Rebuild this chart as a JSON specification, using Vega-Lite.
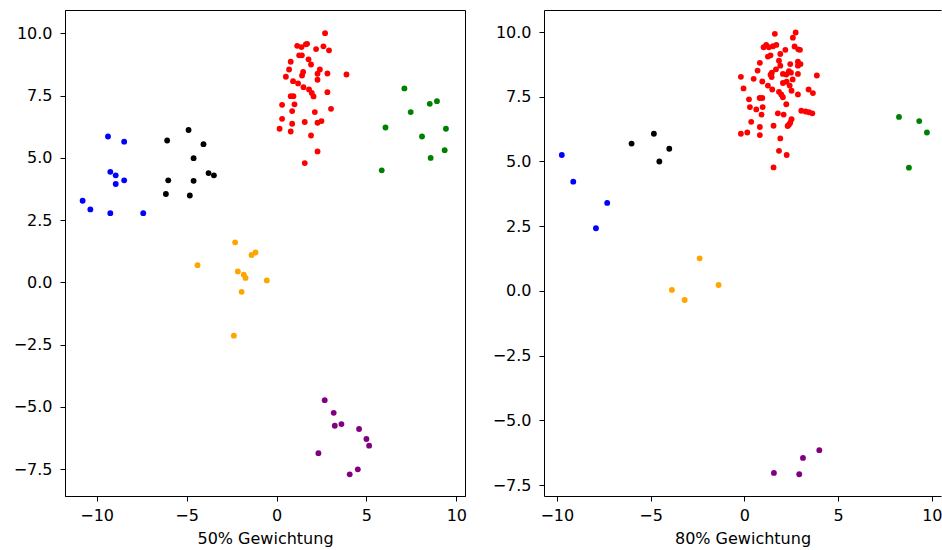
{
  "$schema": "https://vega.github.io/schema/vega-lite/v6.json",
  "padding": {"left": 11, "top": 9, "right": 0, "bottom": 0},
  "background": "white",
  "spacing": 23,
  "config": {
    "view": {"stroke": "#000000", "strokeWidth": 1},
    "axis": {
      "grid": false,
      "domainColor": "#000000",
      "domainWidth": 1,
      "tickColor": "#000000",
      "tickSize": 5,
      "tickWidth": 1,
      "labelFont": "DejaVu Sans",
      "labelFontSize": 16,
      "labelColor": "#000000",
      "labelFlush": false,
      "labelOverlap": false,
      "titleFont": "DejaVu Sans",
      "titleFontSize": 16,
      "titleFontWeight": "normal",
      "titleColor": "#000000"
    },
    "axisX": {"labelPadding": 6, "titlePadding": 7},
    "axisY": {"labelPadding": 8, "minExtent": 53, "maxExtent": 53}
  },
  "datasets": {
    "g50": [
      {"x": 2.70, "y": 10.01, "c": "red"}, {"x": 1.15, "y": 9.50, "c": "red"}, {"x": 1.39, "y": 9.45, "c": "red"},
      {"x": 1.63, "y": 9.56, "c": "red"}, {"x": 1.70, "y": 9.58, "c": "red"}, {"x": 2.61, "y": 9.48, "c": "red"},
      {"x": 2.92, "y": 9.32, "c": "red"}, {"x": 2.20, "y": 9.37, "c": "red"}, {"x": 1.26, "y": 9.12, "c": "red"},
      {"x": 1.41, "y": 9.12, "c": "red"}, {"x": 1.78, "y": 8.96, "c": "red"}, {"x": 1.92, "y": 8.75, "c": "red"},
      {"x": 0.79, "y": 8.86, "c": "red"}, {"x": 0.70, "y": 8.55, "c": "red"}, {"x": 2.41, "y": 8.55, "c": "red"},
      {"x": 2.28, "y": 8.38, "c": "red"}, {"x": 2.83, "y": 8.39, "c": "red"}, {"x": 3.89, "y": 8.35, "c": "red"},
      {"x": 1.48, "y": 8.45, "c": "red"}, {"x": 1.42, "y": 8.31, "c": "red"}, {"x": 0.52, "y": 8.26, "c": "red"},
      {"x": 2.28, "y": 8.14, "c": "red"}, {"x": 0.92, "y": 8.08, "c": "red"}, {"x": 1.20, "y": 7.99, "c": "red"},
      {"x": 1.50, "y": 7.84, "c": "red"}, {"x": 1.81, "y": 7.75, "c": "red"}, {"x": 1.96, "y": 7.61, "c": "red"},
      {"x": 2.06, "y": 7.47, "c": "red"}, {"x": 2.83, "y": 7.64, "c": "red"}, {"x": 0.79, "y": 7.48, "c": "red"},
      {"x": 0.94, "y": 7.48, "c": "red"}, {"x": 0.31, "y": 7.13, "c": "red"}, {"x": 1.00, "y": 7.15, "c": "red"},
      {"x": 3.03, "y": 6.97, "c": "red"}, {"x": 0.87, "y": 6.88, "c": "red"}, {"x": 2.13, "y": 6.84, "c": "red"},
      {"x": 0.31, "y": 6.57, "c": "red"}, {"x": 0.87, "y": 6.37, "c": "red"}, {"x": 1.57, "y": 6.44, "c": "red"},
      {"x": 2.28, "y": 6.41, "c": "red"}, {"x": 2.50, "y": 6.48, "c": "red"}, {"x": 0.17, "y": 6.17, "c": "red"},
      {"x": 0.79, "y": 6.06, "c": "red"}, {"x": 1.92, "y": 5.90, "c": "red"}, {"x": 2.28, "y": 5.26, "c": "red"},
      {"x": 1.57, "y": 4.79, "c": "red"},
      {"x": -9.37, "y": 5.86, "c": "blue"}, {"x": -8.47, "y": 5.65, "c": "blue"}, {"x": -9.24, "y": 4.44, "c": "blue"},
      {"x": -8.94, "y": 4.30, "c": "blue"}, {"x": -8.94, "y": 3.95, "c": "blue"}, {"x": -8.47, "y": 4.10, "c": "blue"},
      {"x": -10.78, "y": 3.28, "c": "blue"}, {"x": -10.35, "y": 2.93, "c": "blue"}, {"x": -9.24, "y": 2.78, "c": "blue"},
      {"x": -7.41, "y": 2.78, "c": "blue"},
      {"x": -4.89, "y": 6.12, "c": "black"}, {"x": -6.08, "y": 5.70, "c": "black"}, {"x": -4.06, "y": 5.55, "c": "black"},
      {"x": -4.61, "y": 4.99, "c": "black"}, {"x": -3.78, "y": 4.39, "c": "black"}, {"x": -3.48, "y": 4.30, "c": "black"},
      {"x": -6.02, "y": 4.10, "c": "black"}, {"x": -4.61, "y": 4.08, "c": "black"}, {"x": -6.15, "y": 3.55, "c": "black"},
      {"x": -4.82, "y": 3.49, "c": "black"},
      {"x": 7.11, "y": 7.79, "c": "green"}, {"x": 8.52, "y": 7.17, "c": "green"}, {"x": 8.92, "y": 7.28, "c": "green"},
      {"x": 7.46, "y": 6.84, "c": "green"}, {"x": 6.06, "y": 6.22, "c": "green"}, {"x": 9.42, "y": 6.17, "c": "green"},
      {"x": 8.09, "y": 5.86, "c": "green"}, {"x": 9.35, "y": 5.31, "c": "green"}, {"x": 8.57, "y": 5.00, "c": "green"},
      {"x": 5.85, "y": 4.50, "c": "green"},
      {"x": -2.30, "y": 1.61, "c": "orange"}, {"x": -1.39, "y": 1.10, "c": "orange"}, {"x": -1.17, "y": 1.20, "c": "orange"},
      {"x": -2.15, "y": 0.44, "c": "orange"}, {"x": -1.82, "y": 0.31, "c": "orange"}, {"x": -1.72, "y": 0.18, "c": "orange"},
      {"x": -0.54, "y": 0.08, "c": "orange"}, {"x": -1.94, "y": -0.38, "c": "orange"}, {"x": -2.37, "y": -2.14, "c": "orange"},
      {"x": -4.39, "y": 0.69, "c": "orange"},
      {"x": 2.68, "y": -4.73, "c": "purple"}, {"x": 3.18, "y": -5.24, "c": "purple"}, {"x": 3.24, "y": -5.76, "c": "purple"},
      {"x": 3.61, "y": -5.69, "c": "purple"}, {"x": 4.59, "y": -5.89, "c": "purple"}, {"x": 5.00, "y": -6.29, "c": "purple"},
      {"x": 5.15, "y": -6.56, "c": "purple"}, {"x": 2.33, "y": -6.86, "c": "purple"}, {"x": 4.52, "y": -7.51, "c": "purple"},
      {"x": 4.07, "y": -7.71, "c": "purple"}
    ],
    "g80": [
      {"x": 1.63, "y": 9.93, "c": "red"}, {"x": 2.74, "y": 9.98, "c": "red"}, {"x": 2.59, "y": 9.78, "c": "red"},
      {"x": 1.03, "y": 9.41, "c": "red"}, {"x": 1.17, "y": 9.50, "c": "red"}, {"x": 1.31, "y": 9.41, "c": "red"},
      {"x": 1.53, "y": 9.45, "c": "red"}, {"x": 1.71, "y": 9.50, "c": "red"}, {"x": 2.19, "y": 9.31, "c": "red"},
      {"x": 2.68, "y": 9.44, "c": "red"}, {"x": 2.97, "y": 9.31, "c": "red"}, {"x": 2.88, "y": 9.33, "c": "red"},
      {"x": 1.92, "y": 9.15, "c": "red"}, {"x": 1.26, "y": 9.05, "c": "red"}, {"x": 1.40, "y": 9.10, "c": "red"},
      {"x": 1.85, "y": 8.89, "c": "red"}, {"x": 0.83, "y": 8.81, "c": "red"}, {"x": 1.92, "y": 8.70, "c": "red"},
      {"x": 2.45, "y": 8.76, "c": "red"}, {"x": 2.86, "y": 8.85, "c": "red"}, {"x": 3.00, "y": 8.76, "c": "red"},
      {"x": 2.86, "y": 8.70, "c": "red"}, {"x": 0.71, "y": 8.51, "c": "red"}, {"x": 1.69, "y": 8.56, "c": "red"},
      {"x": 1.47, "y": 8.43, "c": "red"}, {"x": 1.40, "y": 8.35, "c": "red"}, {"x": 1.46, "y": 8.26, "c": "red"},
      {"x": 2.38, "y": 8.49, "c": "red"}, {"x": 2.49, "y": 8.43, "c": "red"}, {"x": 2.06, "y": 8.38, "c": "red"},
      {"x": 2.24, "y": 8.36, "c": "red"}, {"x": 2.86, "y": 8.38, "c": "red"}, {"x": 3.87, "y": 8.32, "c": "red"},
      {"x": -0.18, "y": 8.27, "c": "red"}, {"x": 0.50, "y": 8.19, "c": "red"}, {"x": 0.96, "y": 8.09, "c": "red"},
      {"x": 2.06, "y": 8.03, "c": "red"}, {"x": 2.26, "y": 8.08, "c": "red"}, {"x": 2.58, "y": 8.17, "c": "red"},
      {"x": 2.42, "y": 7.93, "c": "red"}, {"x": 1.26, "y": 7.93, "c": "red"}, {"x": 1.49, "y": 7.78, "c": "red"},
      {"x": 2.52, "y": 7.73, "c": "red"}, {"x": -0.04, "y": 7.82, "c": "red"}, {"x": 3.43, "y": 7.78, "c": "red"},
      {"x": 3.66, "y": 7.64, "c": "red"}, {"x": 2.86, "y": 7.59, "c": "red"}, {"x": 1.85, "y": 7.69, "c": "red"},
      {"x": 1.97, "y": 7.59, "c": "red"}, {"x": 2.06, "y": 7.48, "c": "red"}, {"x": 0.82, "y": 7.45, "c": "red"},
      {"x": 0.96, "y": 7.45, "c": "red"}, {"x": 0.25, "y": 7.40, "c": "red"}, {"x": 2.24, "y": 7.21, "c": "red"},
      {"x": 0.30, "y": 7.10, "c": "red"}, {"x": 0.64, "y": 7.01, "c": "red"}, {"x": 0.98, "y": 7.10, "c": "red"},
      {"x": 3.04, "y": 6.96, "c": "red"}, {"x": 3.27, "y": 6.93, "c": "red"}, {"x": 3.45, "y": 6.90, "c": "red"},
      {"x": 3.63, "y": 6.86, "c": "red"}, {"x": 0.92, "y": 6.81, "c": "red"}, {"x": 1.79, "y": 6.86, "c": "red"},
      {"x": 2.10, "y": 6.81, "c": "red"}, {"x": 0.37, "y": 6.53, "c": "red"}, {"x": 2.52, "y": 6.63, "c": "red"},
      {"x": 2.45, "y": 6.50, "c": "red"}, {"x": 2.38, "y": 6.42, "c": "red"}, {"x": 2.31, "y": 6.37, "c": "red"},
      {"x": 1.56, "y": 6.38, "c": "red"}, {"x": 0.83, "y": 6.33, "c": "red"}, {"x": -0.18, "y": 6.07, "c": "red"},
      {"x": 0.16, "y": 6.12, "c": "red"}, {"x": 0.83, "y": 6.02, "c": "red"}, {"x": 1.92, "y": 5.89, "c": "red"},
      {"x": 1.85, "y": 5.41, "c": "red"}, {"x": 2.26, "y": 5.25, "c": "red"}, {"x": 1.56, "y": 4.77, "c": "red"},
      {"x": -9.73, "y": 5.25, "c": "blue"}, {"x": -9.12, "y": 4.22, "c": "blue"}, {"x": -7.31, "y": 3.40, "c": "blue"},
      {"x": -7.91, "y": 2.42, "c": "blue"},
      {"x": -4.82, "y": 6.07, "c": "black"}, {"x": -6.01, "y": 5.69, "c": "black"}, {"x": -4.00, "y": 5.49, "c": "black"},
      {"x": -4.53, "y": 5.00, "c": "black"},
      {"x": 8.25, "y": 6.72, "c": "green"}, {"x": 9.33, "y": 6.56, "c": "green"}, {"x": 9.74, "y": 6.12, "c": "green"},
      {"x": 8.78, "y": 4.76, "c": "green"},
      {"x": -2.38, "y": 1.26, "c": "orange"}, {"x": -3.86, "y": 0.04, "c": "orange"}, {"x": -3.18, "y": -0.35, "c": "orange"},
      {"x": -1.37, "y": 0.23, "c": "orange"},
      {"x": 4.00, "y": -6.15, "c": "purple"}, {"x": 3.13, "y": -6.45, "c": "purple"}, {"x": 1.58, "y": -7.03, "c": "purple"},
      {"x": 2.93, "y": -7.08, "c": "purple"}
    ]
  },
  "hconcat": [
    {
      "width": 400,
      "height": 486,
      "data": {"name": "g50"},
      "mark": {"type": "point", "filled": true, "size": 34, "opacity": 1},
      "encoding": {
        "x": {
          "field": "x", "type": "quantitative",
          "scale": {"domain": [-11.76, 10.48], "nice": false, "zero": false},
          "axis": {"values": [-10, -5, 0, 5, 10], "format": "d", "title": "50% Gewichtung"}
        },
        "y": {
          "field": "y", "type": "quantitative",
          "scale": {"domain": [-8.58, 10.94], "nice": false, "zero": false},
          "axis": {"values": [-7.5, -5, -2.5, 0, 2.5, 5, 7.5, 10], "format": ".1f", "title": null}
        },
        "color": {
          "field": "c", "type": "nominal", "legend": null,
          "scale": {
            "domain": ["red", "blue", "black", "green", "orange", "purple"],
            "range": ["#ff0000", "#0000ff", "#000000", "#008000", "#ffa500", "#800080"]
          }
        }
      }
    },
    {
      "width": 397,
      "height": 486,
      "view": {"stroke": null},
      "data": {"name": "g80"},
      "layer": [
        {
          "mark": {"type": "point", "filled": true, "size": 34, "opacity": 1},
          "encoding": {
            "x": {
              "field": "x", "type": "quantitative",
              "scale": {"domain": [-10.68, 10.49], "nice": false, "zero": false},
              "axis": {"values": [-10, -5, 0, 5, 10], "format": "d", "title": "80% Gewichtung"}
            },
            "y": {
              "field": "y", "type": "quantitative",
              "scale": {"domain": [-7.92, 10.85], "nice": false, "zero": false},
              "axis": {"values": [-7.5, -5, -2.5, 0, 2.5, 5, 7.5, 10], "format": ".1f", "title": null}
            },
            "color": {
              "field": "c", "type": "nominal", "legend": null,
              "scale": {
                "domain": ["red", "blue", "black", "green", "orange", "purple"],
                "range": ["#ff0000", "#0000ff", "#000000", "#008000", "#ffa500", "#800080"]
              }
            }
          }
        },
        {
          "mark": {"type": "point", "opacity": 0},
          "encoding": {
            "x": {
              "field": "x", "type": "quantitative",
              "axis": {"orient": "top", "labels": false, "ticks": false, "domain": true, "title": null}
            }
          }
        }
      ],
      "resolve": {"axis": {"x": "independent"}}
    }
  ]
}
